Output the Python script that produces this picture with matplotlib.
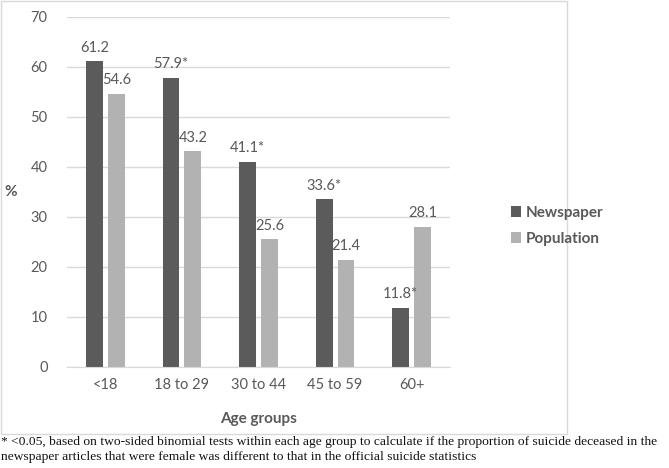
import matplotlib.pyplot as plt
import numpy as np
from matplotlib.patches import Rectangle

categories = ["<18", "18 to 29", "30 to 44", "45 to 59", "60+"]
newspaper = [61.2, 57.9, 41.1, 33.6, 11.8]
population = [54.6, 43.2, 25.6, 21.4, 28.1]
news_labels = ["61.2", "57.9*", "41.1*", "33.6*", "11.8*"]
pop_labels = ["54.6", "43.2", "25.6", "21.4", "28.1"]

plt.rcParams['font.family'] = ['Lato', 'DejaVu Sans']
txt = '#595959'
c_dark = '#5b5b5b'
c_light = '#b2b2b2'

fig = plt.figure(figsize=(6.69, 4.68), dpi=100)
fig.patches.append(Rectangle((0.5/669, 1 - 434/468), 566/669, 433/468, transform=fig.transFigure,
                             fill=False, edgecolor='#d9d9d9', lw=1.0))
ax = fig.add_axes([67/669, (468-367)/468, 383/669, 350/468])
x = np.arange(len(categories))
w = 0.22
g = 0.065
b1 = ax.bar(x - (w+g)/2, newspaper, w, color=c_dark, label='Newspaper')
b2 = ax.bar(x + (w+g)/2, population, w, color=c_light, label='Population')
for xi, v, l in zip(x, newspaper, news_labels):
    ax.text(xi - (w+g)/2, v + 1.3, l, ha='center', va='bottom', fontsize=10.5, color=txt)
for xi, v, l in zip(x, population, pop_labels):
    ax.text(xi + (w+g)/2, v + 1.3, l, ha='center', va='bottom', fontsize=10.5, color=txt)

ax.set_xlim(-0.5, len(categories) - 0.5)
ax.set_ylim(0, 70)
ax.set_yticks(range(0, 71, 10))
ax.set_xticks(x)
ax.set_xticklabels(categories)
ax.tick_params(axis='both', length=0, labelsize=10.5, labelcolor=txt)
ax.tick_params(axis='y', pad=14)
ax.tick_params(axis='x', pad=8)
ax.grid(axis='y', color='#d9d9d9', lw=1)
ax.set_axisbelow(True)
for s in ['top', 'right', 'left']:
    ax.spines[s].set_visible(False)
ax.spines['bottom'].set_color('#d9d9d9')
ax.set_xlabel('Age groups', fontsize=11, fontweight='bold', color=txt, labelpad=14)
ax.set_ylabel('%', fontsize=11, fontweight='bold', color=txt, rotation=0, labelpad=14, va='center')

leg = fig.legend(handles=[b1, b2], loc='upper left', bbox_to_anchor=(497/669, 1 - 192/468),
                 frameon=False, fontsize=11, handlelength=0.7, handleheight=0.7,
                 handletextpad=0.3, labelspacing=0.8)
for t in leg.get_texts():
    t.set_color(txt)
    t.set_fontweight('bold')

fn = ("* <0.05, based on two-sided binomial tests within each age group to calculate if the proportion of suicide deceased in the\n"
      "newspaper articles that were female was different to that in the official suicide statistics")
fig.text(0.002, 1 - 434/468 - 0.004, fn, ha='left', va='top', fontsize=9.7,
         family=['Liberation Serif', 'DejaVu Serif'], color='#111111', linespacing=1.3)

fig.savefig('out.png', dpi=100)
